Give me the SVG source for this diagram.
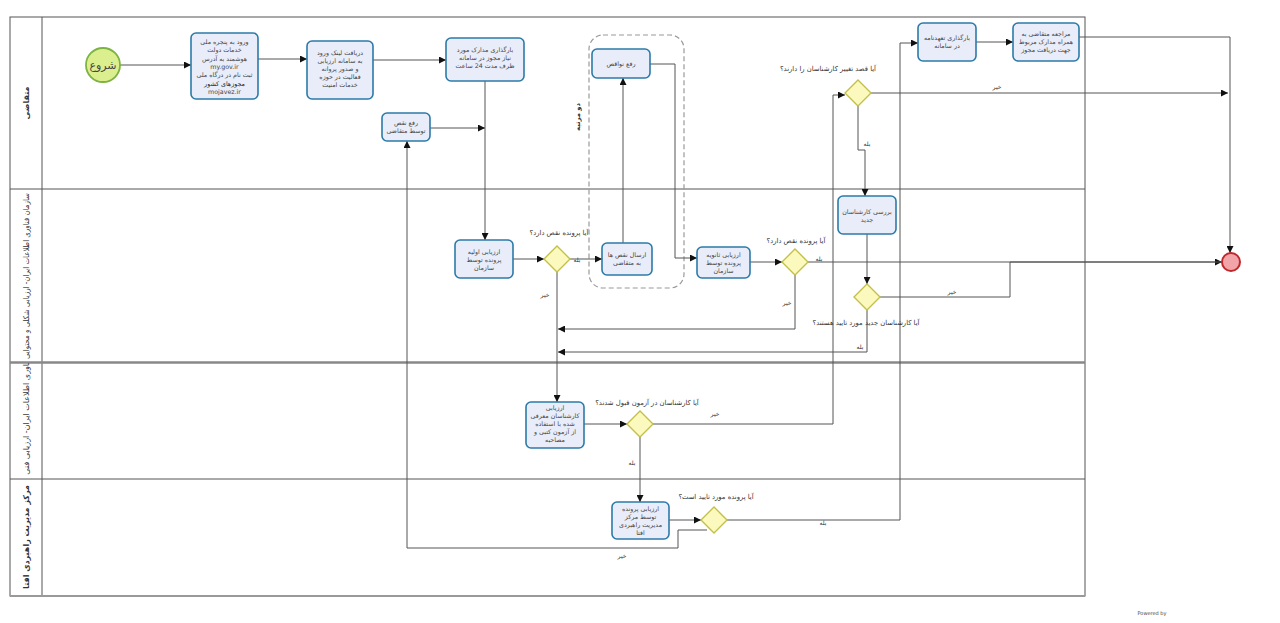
<svg xmlns="http://www.w3.org/2000/svg" width="1280" height="623" viewBox="0 0 1280 623">
<style>
text{font-family:"DejaVu Sans","Noto Sans",sans-serif;fill:#444;direction:rtl}
.t{font-size:6.3px;text-anchor:middle}
.g{font-size:6.8px;text-anchor:middle;fill:#333}
.y{font-size:6px;text-anchor:middle;fill:#333}
.lane{fill:none;stroke:#555;stroke-width:1}
.task{fill:#e9edf9;stroke:#2c7aa8;stroke-width:1.6}
.gw{fill:#fbf9bd;stroke:#c3c04a;stroke-width:1.4}
.c{fill:none;stroke:#555;stroke-width:1}
.lt{font-size:8px;text-anchor:middle;fill:#333}
</style>
<defs>
<marker id="a" viewBox="0 0 10 10" refX="10" refY="5" markerWidth="7" markerHeight="7" orient="auto" markerUnits="userSpaceOnUse"><path d="M0,0 L10,5 L0,10 z" fill="#111"/></marker>
<clipPath id="l3"><rect x="10" y="363" width="32" height="116"/></clipPath>
</defs>
<rect width="1280" height="623" fill="#fff"/>
<g id="pool">
<rect x="10" y="17" width="1075" height="579" class="lane"/>
<line x1="42" y1="17" x2="42" y2="596" class="lane"/>
<line x1="10" y1="189" x2="1085" y2="189" class="lane"/>
<line x1="10" y1="362.5" x2="1085" y2="362.5" stroke="#888" stroke-width="2.5"/>
<line x1="10" y1="479" x2="1085" y2="479" class="lane"/>
<line x1="10" y1="596" x2="1085" y2="596" stroke="#999" stroke-width="2"/>
<text class="lt" font-weight="bold" transform="translate(29,103) rotate(-90)">متقاضی</text>
<text class="lt" font-size="7" textLength="166" lengthAdjust="spacingAndGlyphs" transform="translate(29,276) rotate(-90)">سازمان فناوری اطلاعات ایران- ارزیابی شکلی و محتوایی</text>
<g clip-path="url(#l3)"><text class="lt" font-size="7" transform="translate(29,402) rotate(-90)">سازمان فناوری اطلاعات ایران- ارزیابی فنی</text></g>
<text class="lt" font-weight="bold" transform="translate(29,537) rotate(-90)">مرکز مدیریت راهبردی افتا</text>
</g>
<g id="group-twice">
<rect x="589" y="35" width="95" height="253" rx="14" fill="none" stroke="#999" stroke-width="1.2" stroke-dasharray="5,3"/>
<text class="g" font-weight="bold" transform="translate(580,117) rotate(-90)">دو مرتبه</text>
</g>
<g id="connectors">
<path class="c" d="M120,65 H191" marker-end="url(#a)"/>
<path class="c" d="M258,59 H307" marker-end="url(#a)"/>
<path class="c" d="M373,60 H446" marker-end="url(#a)"/>
<path class="c" d="M485,81 V240" marker-end="url(#a)"/>
<path class="c" d="M430,128 H485" marker-end="url(#a)"/>
<path class="c" d="M513,259 H544" marker-end="url(#a)"/>
<path class="c" d="M570,259 H602" marker-end="url(#a)"/>
<path class="c" d="M623,243 V78" marker-end="url(#a)"/>
<path class="c" d="M650,64 H675 V258 H697" marker-end="url(#a)"/>
<path class="c" d="M557,272 V402" marker-end="url(#a)"/>
<path class="c" d="M750,262 H782" marker-end="url(#a)"/>
<path class="c" d="M808,262 H1222" marker-end="url(#a)"/>
<path class="c" d="M795,275 V329 H558" marker-end="url(#a)"/>
<path class="c" d="M858,106 V150 H865 V196" marker-end="url(#a)"/>
<path class="c" d="M867,234 V284" marker-end="url(#a)"/>
<path class="c" d="M880,297 H1010 V262"/>
<path class="c" d="M1010,262 H1222" stroke-width="1.6"/>
<path class="c" d="M867,310 V352 H558" marker-end="url(#a)"/>
<path class="c" d="M584,424 H627" marker-end="url(#a)"/>
<path class="c" d="M653,424 H833 V95 H845" marker-end="url(#a)"/>
<path class="c" d="M640,437 V502" marker-end="url(#a)"/>
<path class="c" d="M669,520 H701" marker-end="url(#a)"/>
<path class="c" d="M727,520 H900 V43 H918" marker-end="url(#a)"/>
<path class="c" d="M707,530 H678 V548 H407 V141" marker-end="url(#a)"/>
<path class="c" d="M976,42 H1013" marker-end="url(#a)"/>
<path class="c" d="M1079,37 H1230 V253" marker-end="url(#a)"/>
<path class="c" d="M871,93 H1228" marker-end="url(#a)"/>
<text class="y" x="577" y="262">بله</text>
<text class="y" x="545" y="297">خیر</text>
<text class="y" x="819" y="261">بله</text>
<text class="y" x="787" y="305">خیر</text>
<text class="y" x="867" y="146">بله</text>
<text class="y" x="952" y="294">خیر</text>
<text class="y" x="860" y="349">بله</text>
<text class="y" x="715" y="416">خیر</text>
<text class="y" x="632" y="465">بله</text>
<text class="y" x="823" y="525">بله</text>
<text class="y" x="622" y="558">خیر</text>
<text class="y" x="997" y="89">خیر</text>
</g>
<g id="start">
<circle cx="103" cy="65" r="17" fill="#dcef8f" stroke="#7cb342" stroke-width="1.8"/>
<text x="103" y="69" font-size="11" text-anchor="middle" fill="#333">شروع</text>
</g>
<g id="task-register">
<rect x="191" y="33" width="67" height="66" rx="5" class="task"/>
<text class="t"><tspan x="224.5" y="44">ورود به پنجره ملی</tspan><tspan x="224.5" y="52.3">خدمات دولت</tspan><tspan x="224.5" y="60.6">هوشمند به آدرس</tspan><tspan x="224.5" y="68.9">my.gov.ir</tspan><tspan x="224.5" y="77.2">ثبت نام در درگاه ملی</tspan><tspan x="224.5" y="85.5" fill="#222">مجوزهای کشور</tspan><tspan x="224.5" y="93.8">mojavez.ir</tspan></text>
</g>
<g id="task-link">
<rect x="307" y="41" width="66" height="58" rx="5" class="task"/>
<text class="t"><tspan x="340" y="55">دریافت لینک ورود</tspan><tspan x="340" y="63">به سامانه ارزیابی</tspan><tspan x="340" y="71">و صدور پروانه</tspan><tspan x="340" y="79">فعالیت در حوزه</tspan><tspan x="340" y="87">خدمات امنیت</tspan></text>
</g>
<g id="task-upload">
<rect x="446" y="38" width="78" height="43" rx="5" class="task"/>
<text class="t"><tspan x="485" y="52">بارگذاری مدارک مورد</tspan><tspan x="485" y="60">نیاز مجوز در سامانه</tspan><tspan x="485" y="68">ظرف مدت 24 ساعت</tspan></text>
</g>
<g id="task-fix-applicant">
<rect x="382" y="113" width="48" height="28" rx="5" class="task"/>
<text class="t"><tspan x="406" y="125">رفع نقص</tspan><tspan x="406" y="133">توسط متقاضی</tspan></text>
</g>
<g id="task-fix-deficiencies">
<rect x="592" y="49" width="58" height="29" rx="5" class="task"/>
<text class="t" x="621" y="66">رفع نواقص</text>
</g>
<g id="task-initial-eval">
<rect x="455" y="240" width="58" height="38" rx="5" class="task"/>
<text class="t"><tspan x="484" y="254">ارزیابی اولیه</tspan><tspan x="484" y="262">پرونده توسط</tspan><tspan x="484" y="270">سازمان</tspan></text>
</g>
<g id="gw1">
<path d="M557,246 L570,259 L557,272 L544,259 z" class="gw"/>
<text class="g" x="559" y="235">آیا پرونده نقص دارد؟</text>
</g>
<g id="task-send-deficiencies">
<rect x="602" y="243" width="50" height="32" rx="5" class="task"/>
<text class="t"><tspan x="627" y="257">ارسال نقص ها</tspan><tspan x="627" y="265">به متقاضی</tspan></text>
</g>
<g id="task-second-eval">
<rect x="697" y="247" width="53" height="31" rx="5" class="task"/>
<text class="t"><tspan x="723.5" y="257">ارزیابی ثانویه</tspan><tspan x="723.5" y="265">پرونده توسط</tspan><tspan x="723.5" y="273">سازمان</tspan></text>
</g>
<g id="gw2">
<path d="M795,249 L808,262 L795,275 L782,262 z" class="gw"/>
<text class="g" x="796" y="243">آیا پرونده نقص دارد؟</text>
</g>
<g id="gw3">
<path d="M858,80 L871,93 L858,106 L845,93 z" class="gw"/>
<text class="g" x="828" y="71">آیا قصد تغییر کارشناسان را دارند؟</text>
</g>
<g id="task-review-new">
<rect x="838" y="196" width="58" height="38" rx="5" class="task"/>
<text class="t"><tspan x="867" y="214">بررسی کارشناسان</tspan><tspan x="867" y="222">جدید</tspan></text>
</g>
<g id="gw4">
<path d="M867,284 L880,297 L867,310 L854,297 z" class="gw"/>
<text class="g" x="866" y="325">آیا کارشناسان جدید مورد تایید هستند؟</text>
</g>
<g id="task-exam">
<rect x="526" y="402" width="58" height="46" rx="5" class="task"/>
<text class="t"><tspan x="555" y="410">ارزیابی</tspan><tspan x="555" y="418">کارشناسان معرفی</tspan><tspan x="555" y="426">شده با استفاده</tspan><tspan x="555" y="434">از آزمون کتبی و</tspan><tspan x="555" y="442">مصاحبه</tspan></text>
</g>
<g id="gw5">
<path d="M640,411 L653,424 L640,437 L627,424 z" class="gw"/>
<text class="g" x="647" y="405">آیا کارشناسان در آزمون قبول شدند؟</text>
</g>
<g id="task-afta">
<rect x="612" y="502" width="57" height="37" rx="5" class="task"/>
<text class="t"><tspan x="640.5" y="511">ارزیابی پرونده</tspan><tspan x="640.5" y="519">توسط مرکز</tspan><tspan x="640.5" y="527">مدیریت راهبردی</tspan><tspan x="640.5" y="535">افتا</tspan></text>
</g>
<g id="gw6">
<path d="M714,507 L727,520 L714,533 L701,520 z" class="gw"/>
<text class="g" x="716" y="499">آیا پرونده مورد تایید است؟</text>
</g>
<g id="task-commitment">
<rect x="918" y="23" width="58" height="38" rx="5" class="task"/>
<text class="t"><tspan x="947" y="40">بارگذاری تعهدنامه</tspan><tspan x="947" y="48">در سامانه</tspan></text>
</g>
<g id="task-visit">
<rect x="1013" y="23" width="66" height="38" rx="5" class="task"/>
<text class="t"><tspan x="1046" y="36">مراجعه متقاضی به</tspan><tspan x="1046" y="44">همراه مدارک مربوط</tspan><tspan x="1046" y="52">جهت دریافت مجوز</tspan></text>
</g>
<g id="end">
<circle cx="1231" cy="262" r="9" fill="#f2a5a8" stroke="#c0282e" stroke-width="2"/>
</g>
<text x="1152" y="615" font-size="5" fill="#bbb" text-anchor="middle" style="direction:ltr">Powered by</text>
</svg>
